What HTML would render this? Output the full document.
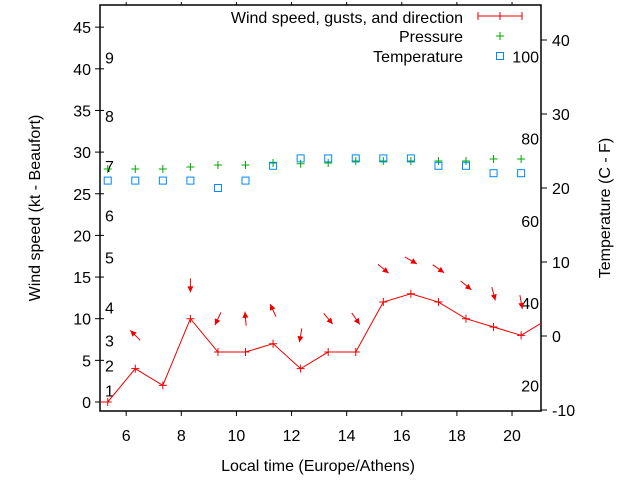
<!DOCTYPE html>
<html><head><meta charset="utf-8"><style>
body{margin:0;background:#fff}
svg{display:block;font-family:"Liberation Sans",sans-serif;font-size:16px}
</style></head><body>
<svg id="c" width="640" height="480" viewBox="0 0 640 480">
<g id="axes"></g><g id="marks"></g>
</svg>
<script>
const hours=[5.33,6.33,7.33,8.33,9.33,10.33,11.33,12.33,13.33,14.33,15.33,16.33,17.33,18.33,19.33,20.33,21.33];
const windKt=[0,4,2,10,6,6,7,4,6,6,12,13,12,10,9,8,10];
const gustKt=[null,8,null,14,10,10,11,8,10,10,16,17,16,14,13,12,null];
const dirFrom=[null,135,null,0,25,175,155,10,320,325,310,300,305,310,345,350,null];
const pressure=[1010,1010,1010,1010.5,1011,1011,1011.5,1011.3,1011.5,1012,1012,1012,1012,1012,1012.5,1012.5];
const tempC=[21,21,21,21,20,21,23,24,24,24,24,24,23,23,22,22];
const xTicks=[6,8,10,12,14,16,18,20];
const yTicks=[0,5,10,15,20,25,30,35,40,45];
const cTicks=[-10,0,10,20,30,40];
const fTicks=[20,40,60,80,100];
const bftLabels=["1","2","3","4","5","6","7","8","9"];
const bftKt=[1,4,7,11,17,22,28,34,41];

const L=100,R=541,T=5,B=411;
const X=h=>L+(h-5.05)*27.56;
const Y=v=>402-v*8.33;
const YC=c=>336-c*7.4;
const YP=p=>169-(p-1010)*4;
const NS="http://www.w3.org/2000/svg";
const ax=document.getElementById('axes'),mk=document.getElementById('marks');
function el(p,t,a){const e=document.createElementNS(NS,t);for(const k in a)e.setAttribute(k,a[k]);p.appendChild(e);return e;}
function txt(p,x,y,s,anchor){const e=el(p,'text',{x:x,y:y,'text-anchor':anchor||'middle'});e.textContent=s;return e;}

const frame=el(ax,'rect',{x:L,y:T,width:R-L,height:B-T,fill:'none',stroke:'#000','stroke-width':1.5});


xTicks.forEach(h=>{
  const t=el(ax,'path',{d:`M${X(h)},${B}v5M${X(h)},${T}v-3`,stroke:'#000'});
  
  
  const l=txt(ax,X(h),441,String(h));
  
  
});
yTicks.forEach(v=>{
  const t=el(ax,'path',{d:`M${L-5},${Y(v)}h9`,stroke:'#000'});
  
  
  const l=txt(ax,91,Y(v)+6,String(v),'end');
  
  
});
cTicks.forEach(c=>{
  const t=el(ax,'path',{d:`M${R},${YC(c)}h6`,stroke:'#000'});
  
  
  const l=txt(ax,552,YC(c)+6,String(c),'start');
  
  
});
fTicks.forEach(f=>{
  const l=txt(ax,539,YC((f-32)*5/9)+6,String(f),'end');
  
  
});
bftLabels.forEach((s,i)=>{
  const l=txt(ax,105,Y(bftKt[i])+3,s,'start');
  
  
});
let t1=el(ax,'text',{x:0,y:0,'text-anchor':'middle',transform:'translate(40,208) rotate(-90)'});t1.textContent='Wind speed (kt - Beaufort)';


let t2=el(ax,'text',{x:0,y:0,'text-anchor':'middle',transform:'translate(610,208) rotate(-90)'});t2.textContent='Temperature (C - F)';


let t3=txt(ax,318,471,'Local time (Europe/Athens)');



let lg=txt(ax,463,23,'Wind speed, gusts, and direction','end');


el(ax,'path',{d:'M478,16h44M478,12v8M500,12v8M522,12v8',stroke:'#e00'});
let lp=txt(ax,463,42,'Pressure','end');


el(ax,'path',{d:'M496,36h8M500,32v8',stroke:'#0a0'});
let lt=txt(ax,463,62,'Temperature','end');


el(ax,'rect',{x:496.5,y:52.5,width:7,height:7,fill:'none',stroke:'#08f'});

const defs=el(mk,'defs',{});const cp=el(defs,'clipPath',{id:'cp'});el(cp,'rect',{x:L,y:T,width:R-L,height:B-T});
const g=el(mk,'g',{'clip-path':'url(#cp)'});

const line=el(g,'polyline',{points:hours.map((h,i)=>X(h)+','+Y(windKt[i])).join(' '),fill:'none',stroke:'#e00'});


el(g,'path',{d:`M${L-3},${Y(0)}H${X(hours[0])}`,stroke:'#e00'});
hours.forEach((h,i)=>{
  const x=X(h),y=Y(windKt[i]);
  const p=el(g,'path',{d:`M${x-4},${y}h8M${x},${y-4}v8`,stroke:'#e00'});
  
  
  if(gustKt[i]!=null){
    const to=(dirFrom[i]+180)*Math.PI/180;
    const dx=Math.sin(to),dy=-Math.cos(to);
    const cx=x,cy=Y(gustKt[i]);
    const x1=cx-dx*7,y1=cy-dy*7,x2=cx+dx*7,y2=cy+dy*7;
    const px=-dy,py=dx;
    const a=el(g,'g',{});
    
    
    el(a,'line',{x1:x1,y1:y1,x2:x2,y2:y2,stroke:'#e00'});
    el(a,'polygon',{points:`${x2},${y2} ${x2-dx*6+px*3},${y2-dy*6+py*3} ${x2-dx*6-px*3},${y2-dy*6-py*3}`,fill:'#e00'});
  }
});
pressure.forEach((p,i)=>{
  const x=X(hours[i]),y=YP(p);
  const m=el(g,'path',{d:`M${x-4},${y}h8M${x},${y-4}v8`,stroke:'#0a0'});
  
  
});
tempC.forEach((c,i)=>{
  const x=X(hours[i]),y=YC(c);
  const m=el(g,'rect',{x:x-3.5,y:y-3.5,width:7,height:7,fill:'none',stroke:'#08f'});
  
  
});
</script>
</body></html>
